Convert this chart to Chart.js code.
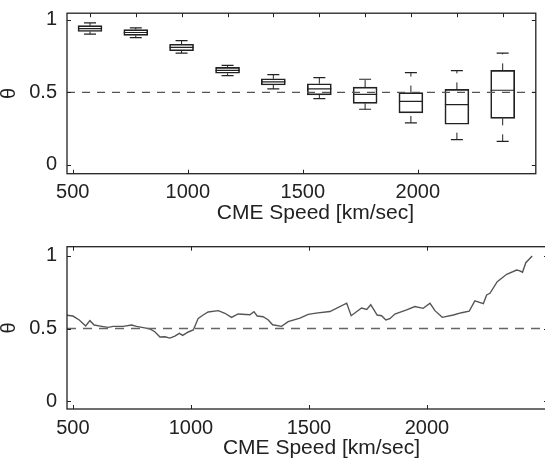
<!DOCTYPE html>
<html>
<head>
<meta charset="utf-8">
<script src="https://cdn.jsdelivr.net/npm/chart.js@4"></script>
<style>
  html, body { margin: 0; padding: 0; background: #fff; overflow: hidden; }
  body { width: 545px; height: 460px; position: relative; }
  .panel { position: absolute; left: 0; width: 549px; height: 230px; }
  #topPanel { top: 0; }
  #bottomPanel { top: 230px; }
</style>
</head>
<body>
<div class="panel" id="topPanel"><canvas id="boxChart"></canvas></div>
<div class="panel" id="bottomPanel"><canvas id="lineChart"></canvas></div>
<script>
// box plot: theta per speed bin
const boxX   = [575, 774, 973, 1173, 1372, 1572, 1771, 1970, 2170, 2369];
const boxMin = [0.901, 0.876, 0.770, 0.615, 0.523, 0.457, 0.383, 0.289, 0.174, 0.162];
const boxQ1  = [0.919, 0.892, 0.786, 0.631, 0.550, 0.482, 0.424, 0.358, 0.280, 0.320];
const boxMed = [0.939, 0.912, 0.809, 0.651, 0.572, 0.523, 0.486, 0.437, 0.415, 0.514];
const boxQ3  = [0.959, 0.932, 0.831, 0.672, 0.593, 0.559, 0.536, 0.498, 0.520, 0.651];
const boxMax = [0.978, 0.944, 0.856, 0.685, 0.622, 0.601, 0.590, 0.635, 0.649, 0.770];

// running theta vs speed
const speed = [475, 500, 527, 554, 572, 590, 622, 650, 671, 713, 749, 770, 798, 826, 847,
  869, 890, 911, 932, 951, 965, 989, 1010, 1031, 1052, 1073, 1116, 1144, 1172, 1200,
  1250, 1267, 1281, 1306, 1328, 1346, 1384, 1412, 1462, 1497, 1530, 1589, 1660, 1679,
  1723, 1745, 1762, 1789, 1808, 1826, 1843, 1864, 1914, 1949, 1984, 2013, 2034, 2065,
  2112, 2147, 2179, 2203, 2239, 2253, 2267, 2298, 2338, 2380, 2391, 2405, 2419, 2446];
const theta = [0.591, 0.586, 0.559, 0.517, 0.554, 0.524, 0.515, 0.508, 0.515, 0.515, 0.524,
  0.515, 0.506, 0.497, 0.478, 0.441, 0.443, 0.434, 0.448, 0.467, 0.453, 0.476, 0.490,
  0.570, 0.593, 0.614, 0.623, 0.605, 0.577, 0.600, 0.595, 0.616, 0.586, 0.581, 0.559,
  0.526, 0.515, 0.547, 0.572, 0.597, 0.606, 0.617, 0.675, 0.588, 0.641, 0.632, 0.664,
  0.593, 0.588, 0.559, 0.568, 0.600, 0.628, 0.651, 0.639, 0.674, 0.623, 0.577, 0.593,
  0.609, 0.619, 0.690, 0.671, 0.731, 0.743, 0.823, 0.874, 0.903, 0.899, 0.888, 0.954, 1.0];

const xTicks = [500, 1000, 1500, 2000];
const yTicks = [0, 0.5, 1];
const refLevel = 0.5;
const xLabel = 'CME Speed [km/sec]';

const FONT = '"Liberation Sans", Arial, Helvetica, sans-serif';
const INK = '#222';

// axes box with inward ticks, matlab style, plus the x label
const framePlugin = {
  id: 'frame',
  afterDatasetsDraw(chart, args, opts) {
    const { ctx, chartArea: a, scales } = chart;
    const len = 4;
    ctx.save();
    ctx.strokeStyle = INK;
    ctx.lineWidth = 1;
    (opts.bottomTicks || []).forEach(v => {
      const x = Math.round(scales.x.getPixelForValue(v)) + 0.5;
      ctx.beginPath(); ctx.moveTo(x, a.bottom); ctx.lineTo(x, a.bottom - len); ctx.stroke();
    });
    (opts.topTicks || []).forEach(v => {
      const x = Math.round(scales.x.getPixelForValue(v)) + 0.5;
      ctx.beginPath(); ctx.moveTo(x, a.top); ctx.lineTo(x, a.top + len); ctx.stroke();
    });
    yTicks.forEach(v => {
      const y = Math.round(scales.y.getPixelForValue(v)) + 0.5;
      ctx.beginPath(); ctx.moveTo(a.left, y); ctx.lineTo(a.left + len, y); ctx.stroke();
      ctx.beginPath(); ctx.moveTo(a.right, y); ctx.lineTo(a.right - len, y); ctx.stroke();
    });
    ctx.lineWidth = 1.3;
    ctx.strokeRect(a.left, a.top, a.right - a.left, a.bottom - a.top);

    ctx.fillStyle = INK;
    ctx.font = '21px ' + FONT;
    ctx.textAlign = 'center';
    ctx.textBaseline = 'middle';
    ctx.fillText(xLabel, (a.left + a.right) / 2 + opts.labelShift, a.bottom + opts.labelGap);
    ctx.restore();
  }
};

function axes(yMin, yMax, xHeight) {
  return {
    x: {
      type: 'linear', min: 475, max: 2513, offset: false,
      afterBuildTicks: s => { s.ticks = xTicks.map(v => ({ value: v })); },
      afterFit: s => { s.height = xHeight; s.paddingLeft = 0; s.paddingRight = 0; },
      grid: { display: false, drawTicks: false, offset: false },
      border: { display: false },
      ticks: { color: INK, padding: 7, maxRotation: 0, font: { family: FONT, size: 20 },
        callback: v => String(v) },
      title: { display: false }
    },
    y: {
      min: yMin, max: yMax,
      afterBuildTicks: s => { s.ticks = yTicks.map(v => ({ value: v })); },
      afterFit: s => { s.width = 67; s.paddingTop = 0; s.paddingBottom = 0; },
      grid: { display: false, drawTicks: false },
      border: { display: false },
      ticks: { color: INK, padding: 10, font: { family: FONT, size: 20 },
        callback: v => String(v) },
      title: { display: true, text: 'θ', color: INK, padding: 0,
        font: { family: FONT, size: 20, lineHeight: 0.9 } }
    }
  };
}

const whiskerPts = [];
boxX.forEach((x, i) => {
  whiskerPts.push({ x, y: boxQ3[i] }, { x, y: boxMax[i] }, { x, y: null });
  whiskerPts.push({ x, y: boxMin[i] }, { x, y: boxQ1[i] }, { x, y: null });
});

new Chart(document.getElementById('boxChart'), {
  type: 'bar',
  data: {
    datasets: [
      {
        type: 'line', data: [{ x: 475, y: refLevel }, { x: 2513, y: refLevel }],
        borderColor: '#555', borderWidth: 1.2, borderDash: [8, 7], pointRadius: 0
      },
      {
        type: 'line', data: whiskerPts, spanGaps: false,
        borderColor: INK, borderWidth: 1, borderDash: [7, 9], pointRadius: 0
      },
      {
        type: 'bar', data: boxX.map((x, i) => ({ x, y: [boxQ1[i], boxQ3[i]] })),
        backgroundColor: 'rgba(0,0,0,0)', borderColor: INK, borderWidth: 1,
        borderSkipped: false, barThickness: 24
      },
      {
        type: 'scatter', data: boxX.map((x, i) => ({ x, y: boxMed[i] })),
        pointStyle: 'line', pointRadius: 12, borderColor: INK, borderWidth: 1.2
      },
      {
        type: 'scatter',
        data: boxX.map((x, i) => ({ x, y: boxMax[i] })).concat(boxX.map((x, i) => ({ x, y: boxMin[i] }))),
        pointStyle: 'line', pointRadius: 6, borderColor: INK, borderWidth: 1.2
      }
    ]
  },
  options: {
    responsive: true, maintainAspectRatio: false, animation: false,
    layout: { padding: { top: 10, left: 0, right: 1, bottom: 0 } },
    scales: axes(-0.061, 1.045, 56.3),
    plugins: {
      legend: { display: false }, tooltip: { enabled: false },
      frame: { bottomTicks: xTicks, topTicks: boxX, labelShift: 14, labelGap: 39.5 }
    }
  },
  plugins: [framePlugin]
});

new Chart(document.getElementById('lineChart'), {
  type: 'line',
  data: {
    datasets: [
      {
        data: [{ x: 475, y: refLevel }, { x: 2513, y: refLevel }],
        borderColor: '#666', borderWidth: 1.4, borderDash: [9, 7], pointRadius: 0
      },
      {
        data: speed.map((s, i) => ({ x: s, y: theta[i] })),
        borderColor: '#555', borderWidth: 1.4, pointRadius: 0, tension: 0
      }
    ]
  },
  options: {
    responsive: true, maintainAspectRatio: false, animation: false,
    layout: { padding: { top: 16.7, left: 0, right: 1, bottom: 0 } },
    scales: axes(-0.055, 1.064, 51),
    plugins: {
      legend: { display: false }, tooltip: { enabled: false },
      frame: { bottomTicks: xTicks, topTicks: xTicks, labelShift: 14, labelGap: 39.5 }
    }
  },
  plugins: [framePlugin]
});
</script>
</body>
</html>
